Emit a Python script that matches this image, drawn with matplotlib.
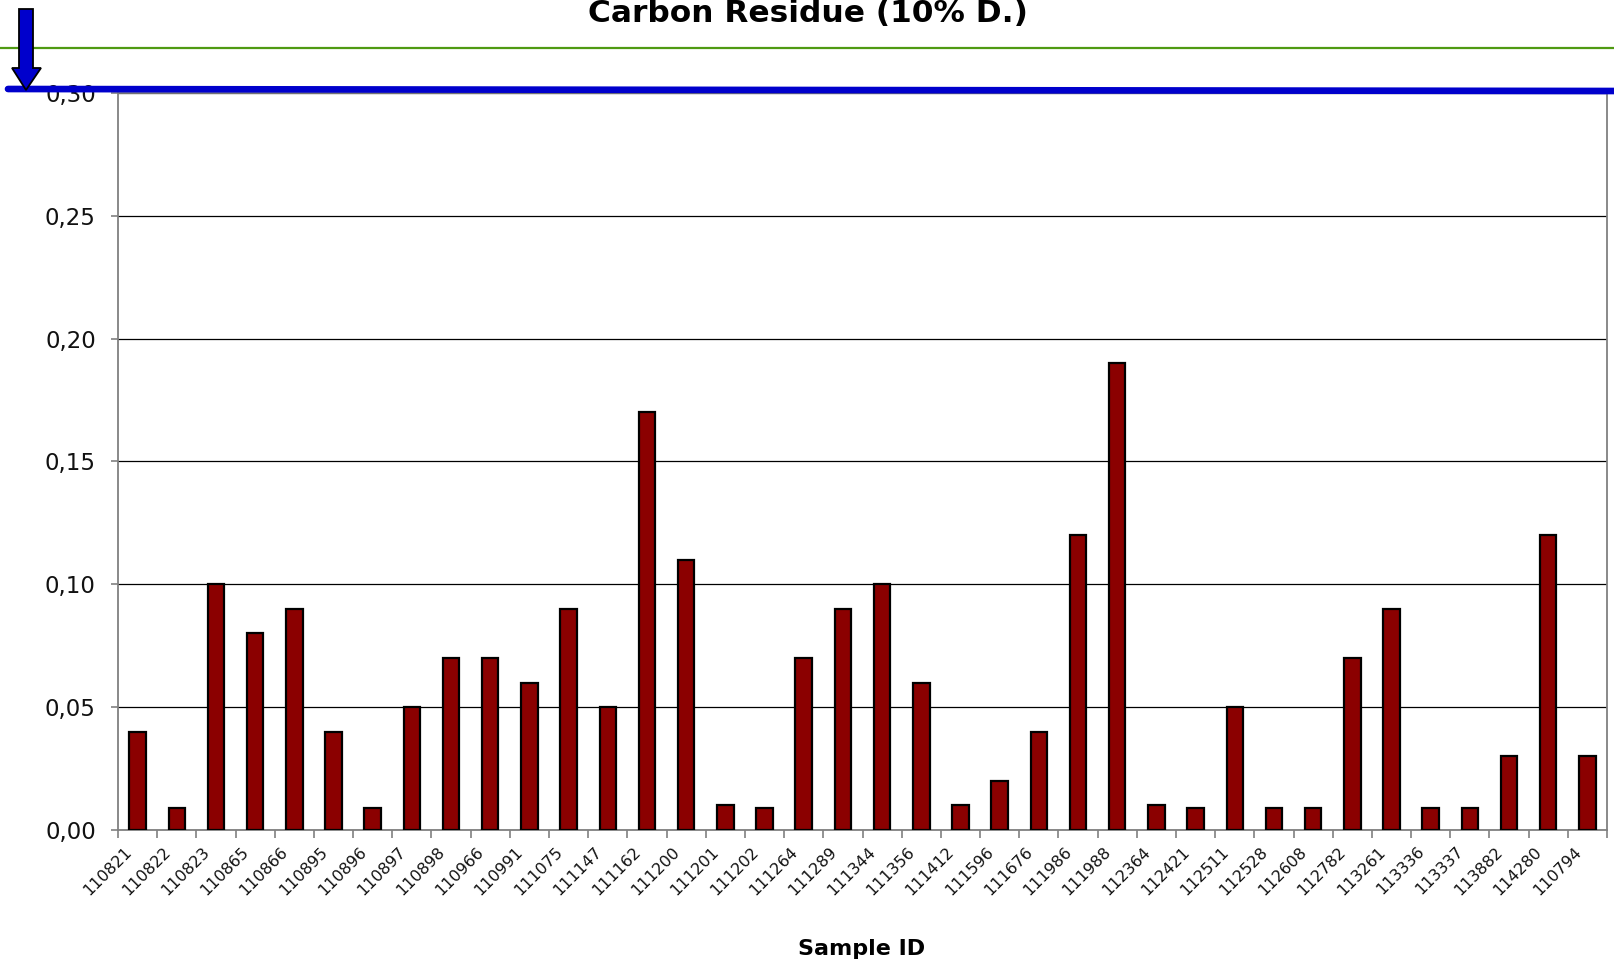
import matplotlib
matplotlib.use("Agg")
import matplotlib.pyplot as plt
from matplotlib.patches import Polygon
from matplotlib.lines import Line2D
from matplotlib.ticker import FuncFormatter, FixedLocator
from matplotlib.transforms import ScaledTranslation, blended_transform_factory

samples = ["110821", "110822", "110823", "110865", "110866", "110895", "110896", "110897",
           "110898", "110966", "110991", "111075", "111147", "111162", "111200", "111201",
           "111202", "111264", "111289", "111344", "111356", "111412", "111596", "111676",
           "111986", "111988", "112364", "112421", "112511", "112528", "112608", "112782",
           "113261", "113336", "113337", "113882", "114280", "110794"]
values = [0.04, 0.009, 0.10, 0.08, 0.09, 0.04, 0.009, 0.05, 0.07, 0.07, 0.06, 0.09,
          0.05, 0.17, 0.11, 0.01, 0.009, 0.07, 0.09, 0.10, 0.06, 0.01, 0.02, 0.04,
          0.12, 0.19, 0.01, 0.009, 0.05, 0.009, 0.009, 0.07, 0.09, 0.009, 0.009, 0.03,
          0.12, 0.03]
y_ticks = [0.00, 0.05, 0.10, 0.15, 0.20, 0.25, 0.30]

W, H = 1614, 960
fig = plt.figure(figsize=(W / 100, H / 100), dpi=100)
fig.patch.set_facecolor("white")

def fx(px):
    return px / W

def fy(py):
    return (H - py) / H

ax = fig.add_axes([fx(118), fy(830), fx(1607) - fx(118), fy(93) - fy(830)])
n = len(samples)
xs = list(range(n))
ax.bar(xs, values, width=0.42, color="#8b0000", edgecolor="black", linewidth=1.6, zorder=3)

ax.set_xlim(-0.5, n - 0.5)
ax.set_ylim(0, 0.30)
ax.yaxis.set_major_locator(FixedLocator(y_ticks))
ax.yaxis.set_major_formatter(FuncFormatter(lambda v, p: f"{v:.2f}".replace(".", ",")))
ax.grid(axis="y", color="black", linewidth=0.9, zorder=0)
ax.set_axisbelow(True)

# category ticks at boundaries
ax.set_xticks([i - 0.5 for i in range(n + 1)])
ax.set_xticklabels([])
ax.tick_params(axis="x", which="major", length=6, width=1.2, color="#808080", direction="out")
ax.tick_params(axis="y", length=5, width=1.2, color="#808080", labelsize=16.5, pad=11,
               labelcolor="#111111")

# category labels, centred on bars (shifted like the reference)
lbl_trans = blended_transform_factory(ax.transData, ax.transAxes) + \
    ScaledTranslation(-0.14, -0.14, fig.dpi_scale_trans)
for x, s in zip(xs, samples):
    ax.text(x, 0, s, transform=lbl_trans, rotation=45, ha="right", va="top",
            rotation_mode="anchor", fontsize=11.5, color="#111111", clip_on=False)

for s in ax.spines.values():
    s.set_color("#808080")
    s.set_linewidth(1.3)

# title and axis label
fig.text(fx(808), fy(22), "Carbon Residue (10% D.)", ha="center", va="baseline",
         fontsize=22.5, fontweight="bold", color="black")
fig.text(fx(862), fy(955), "Sample ID", ha="center", va="baseline",
         fontsize=16, fontweight="bold", color="black")

# green rule
fig.add_artist(Line2D([0, 1], [fy(48), fy(48)], transform=fig.transFigure,
                      color="#4f9a12", linewidth=1.6, zorder=10))
# blue limit line
fig.add_artist(Line2D([fx(8), 1.0], [fy(89), fy(91)], transform=fig.transFigure,
                      color="#0000cc", linewidth=4.8, solid_capstyle="round", zorder=11))
# arrow
arrow_px = [(19, 9), (33, 9), (33, 68), (41, 68), (26, 90), (12, 68), (19, 68)]
fig.add_artist(Polygon([(fx(x), fy(y)) for x, y in arrow_px], closed=True,
                       transform=fig.transFigure, facecolor="#0000cc",
                       edgecolor="black", linewidth=1.3, zorder=12))

fig.savefig("out.png", dpi=100, facecolor="white")
